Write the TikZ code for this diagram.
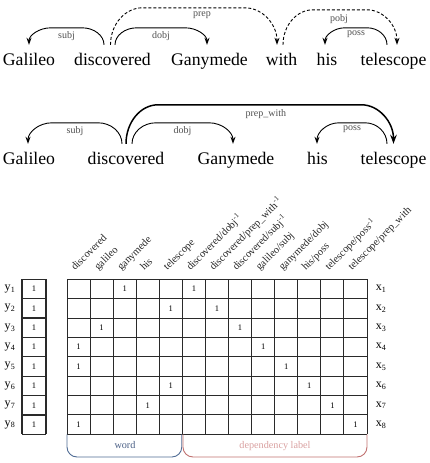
\documentclass[tikz,border=0pt]{standalone}
\usepackage{fontspec}
\setmainfont{Liberation Serif}
\usetikzlibrary{arrows.meta}
\definecolor{wordblue}{HTML}{4F6B94}
\definecolor{wordtxt}{HTML}{4A5F85}
\definecolor{depred}{HTML}{C0706F}
\definecolor{deptxt}{HTML}{D9A0A0}
\definecolor{lblgray}{HTML}{505050}
\definecolor{gridc}{HTML}{2A2A2A}
% #1 style, #2 start node, #3 start xshift, #4 end node, #5 end xshift,
% #6 height, #7 signed corner width, #8 label node
\newcommand\deparcdraw[8]{%
  \draw[#1] ([xshift=#3]#2.north)
    .. controls ([xshift=#3,yshift={0.55*#6}]#2.north) and ([xshift={#3+0.45*#7},yshift=#6]#2.north)
    .. ([xshift={#3+#7},yshift=#6]#2.north)
    -- #8 ([xshift={#5-#7},yshift=#6]#4.north)
    .. controls ([xshift={#5-0.45*#7},yshift=#6]#4.north) and ([xshift=#5,yshift={0.55*#6}]#4.north)
    .. ([xshift=#5]#4.north);}
\begin{document}
\begin{tikzpicture}[x=1pt,y=-1pt,
  word/.style={font=\fontsize{17.7}{20}\selectfont, inner xsep=0pt, inner ysep=8pt,
    text height=12pt, text depth=4pt, anchor=base},
  deparc/.style={line width=0.9pt, -{Stealth[length=7pt,width=5pt]}},
  dashedarc/.style={deparc, dash pattern=on 3pt off 2pt},
  thickarc/.style={line width=1.5pt, -{Stealth[length=9pt,width=6.5pt]}},
  lbl/.style={font=\fontsize{10}{11}\selectfont, text=lblgray, inner sep=1pt},
  gridl/.style={draw=gridc, line width=0.9pt},
  leftl/.style={draw=gridc, line width=1.2pt},
  one/.style={font=\fontsize{8.5}{9}\selectfont, inner sep=0pt},
  rowlbl/.style={font=\fontsize{12}{13}\selectfont, inner sep=0pt},
  collbl/.style={font=\fontsize{10.5}{11}\selectfont, text=black!85, rotate=45, anchor=base west, inner sep=0pt},
  bracetxt/.style={font=\fontsize{10.2}{11}\selectfont, inner sep=0pt}
]
\useasboundingbox (0,0) rectangle (429,463);

% ---------- sentence 1 ----------
\node[word] (g1) at (29,65) {Galileo};
\node[word] (d1) at (112.5,65) {discovered};
\node[word] (n1) at (209.5,65) {Ganymede};
\node[word] (w1) at (281.5,65) {with};
\node[word] (h1) at (327,65) {his};
\node[word] (t1) at (393.5,65) {telescope};

\deparcdraw{deparc}{d1}{-8.5pt}{g1}{0pt}{17pt}{-22pt}{node[lbl, midway, below=2pt] (l1a) {subj}}
\deparcdraw{deparc}{d1}{2.5pt}{n1}{-2.5pt}{17pt}{22pt}{node[lbl, midway, below=2pt] (l1b) {dobj}}
\deparcdraw{dashedarc}{d1}{-2pt}{w1}{-4.5pt}{37pt}{32pt}{node[lbl, pos=0.58, below=3pt] (l1c) {prep}}
\deparcdraw{dashedarc}{w1}{1.5pt}{t1}{3.5pt}{35pt}{30pt}{node[lbl, pos=0.48, below=3pt] (l1d) {pobj}}
\deparcdraw{deparc}{t1}{-6.5pt}{h1}{-2pt}{17pt}{-20pt}{node[lbl, midway, below=2pt] (l1e) {poss}}

% ---------- sentence 2 ----------
\node[word] (g2) at (29,164) {Galileo};
\node[word] (d2) at (126,164) {discovered};
\node[word] (n2) at (236,164) {Ganymede};
\node[word] (h2) at (317.5,164) {his};
\node[word] (t2) at (393.5,164) {telescope};

\deparcdraw{deparc}{d2}{-4pt}{g2}{-1pt}{21pt}{-24pt}{node[lbl, midway, below=2pt] (l2a) {subj}}
\deparcdraw{deparc}{d2}{6pt}{n2}{-3pt}{21pt}{24pt}{node[lbl, midway, below=2pt] (l2b) {dobj}}
\deparcdraw{thickarc}{d2}{0pt}{t2}{0pt}{39pt}{32pt}{node[lbl, pos=0.53, below=3pt] (l2c) {prep\_with}}
\deparcdraw{deparc}{t2}{-6.5pt}{h2}{-0.5pt}{21pt}{-22pt}{node[lbl, midway, below=2pt] (l2d) {poss}}

% ---------- matrix ----------
\def\gx{67}\def\cw{23.077}\def\gy{279.3}\def\rh{19.375}
% column labels
\foreach \t [count=\i] in {discovered,galileo,ganymede,his,telescope,
  {discovered/dobj\textsuperscript{-1}},{discovered/prep\_with\textsuperscript{-1}},
  {discovered/subj\textsuperscript{-1}},{galileo/subj},{ganymede/dobj},{his/poss},
  {telescope/poss\textsuperscript{-1}},{telescope/prep\_with}}
  \node[collbl] (c\i) at (\gx+\i*\cw-0.5*\cw-3.5, 271) {\t};

% grid lines
\foreach \i in {0,...,13}
  \draw[gridl] (\gx+\i*\cw, \gy) -- (\gx+\i*\cw, \gy+8*\rh);
\draw[gridl, line width=1.6pt] (\gx+5*\cw, \gy) -- (\gx+5*\cw, \gy+8*\rh);
\foreach \j in {0,...,8}
  \draw[gridl] (\gx, \gy+\j*\rh) -- (\gx+13*\cw, \gy+\j*\rh);

% left column
\foreach \j in {0,...,8}
  \draw[leftl] (22, \gy+\j*\rh) -- (46, \gy+\j*\rh);
\draw[leftl] (22,\gy) -- (22,\gy+8*\rh);
\draw[leftl] (46,\gy) -- (46,\gy+8*\rh);

\foreach \j in {1,...,8} {
  \node[one] (b\j) at (34, \gy+\j*\rh-0.5*\rh) {1};
  \node[rowlbl] (y\j) at (10, \gy+\j*\rh-0.5*\rh) {y\textsubscript{\j}};
  \node[rowlbl] (x\j) at (381, \gy+\j*\rh-0.5*\rh) {x\textsubscript{\j}};
}

% ones in the matrix
\foreach \c/\r in {3/1,6/1,5/2,7/2,2/3,8/3,1/4,9/4,1/5,10/5,5/6,11/6,4/7,12/7,1/8,13/8}
  \node[one] (o\c-\r) at (\gx+\c*\cw-0.5*\cw, \gy+\r*\rh-0.5*\rh) {1};

% braces
\draw[wordblue, line width=0.9pt, rounded corners=10pt]
  (\gx, \gy+8*\rh) -- (\gx, 457) -- (\gx+5*\cw-0.6, 457) -- (\gx+5*\cw-0.6, \gy+8*\rh);
\draw[depred, line width=0.9pt, rounded corners=10pt]
  (\gx+5*\cw+0.6, \gy+8*\rh) -- (\gx+5*\cw+0.6, 457) -- (\gx+13*\cw, 457) -- (\gx+13*\cw, \gy+8*\rh);
\node[bracetxt, text=wordtxt] (wl) at (125, 445) {word};
\node[bracetxt, text=deptxt] (dl) at (275, 446) {dependency label};
\end{tikzpicture}
\end{document}
